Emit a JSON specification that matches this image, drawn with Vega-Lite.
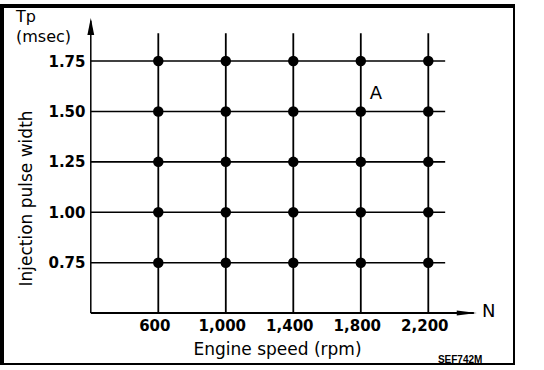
{
  "$schema": "https://vega.github.io/schema/vega-lite/v6.json",
  "width": 513,
  "height": 359,
  "autosize": {"type": "none"},
  "padding": {"left": 2, "top": 6, "right": 0, "bottom": 0},
  "background": "white",
  "config": {
    "view": {"stroke": "black", "strokeWidth": 4},
    "font": "DejaVu Sans"
  },
  "datasets": {
    "points": [
      {"n": 600, "tp": 0.75}, {"n": 600, "tp": 1.0}, {"n": 600, "tp": 1.25}, {"n": 600, "tp": 1.5}, {"n": 600, "tp": 1.75},
      {"n": 1000, "tp": 0.75}, {"n": 1000, "tp": 1.0}, {"n": 1000, "tp": 1.25}, {"n": 1000, "tp": 1.5}, {"n": 1000, "tp": 1.75},
      {"n": 1400, "tp": 0.75}, {"n": 1400, "tp": 1.0}, {"n": 1400, "tp": 1.25}, {"n": 1400, "tp": 1.5}, {"n": 1400, "tp": 1.75},
      {"n": 1800, "tp": 0.75}, {"n": 1800, "tp": 1.0}, {"n": 1800, "tp": 1.25}, {"n": 1800, "tp": 1.5}, {"n": 1800, "tp": 1.75},
      {"n": 2200, "tp": 0.75}, {"n": 2200, "tp": 1.0}, {"n": 2200, "tp": 1.25}, {"n": 2200, "tp": 1.5}, {"n": 2200, "tp": 1.75}
    ],
    "tpLevels": [{"tp": 0.75}, {"tp": 1.0}, {"tp": 1.25}, {"tp": 1.5}, {"tp": 1.75}],
    "speeds": [{"n": 600}, {"n": 1000}, {"n": 1400}, {"n": 1800}, {"n": 2200}]
  },
  "layer": [
    {
      "data": {"name": "tpLevels"},
      "mark": {"type": "rule", "color": "black", "strokeWidth": 1.6},
      "encoding": {
        "y": {"field": "tp", "type": "quantitative", "scale": {"domain": [0.2428, 2.0227], "nice": false, "zero": false}},
        "x": {"datum": 200, "type": "quantitative", "scale": {"domain": [-326.2, 2713.8], "nice": false, "zero": false}},
        "x2": {"datum": 2300}
      }
    },
    {
      "data": {"name": "speeds"},
      "mark": {"type": "rule", "color": "black", "strokeWidth": 1.8},
      "encoding": {
        "x": {"field": "n", "type": "quantitative"},
        "y": {"datum": 0.5, "type": "quantitative"},
        "y2": {"datum": 1.887}
      }
    },
    {
      "data": {"values": [{}]},
      "mark": {"type": "rule", "color": "black", "strokeWidth": 1.5},
      "encoding": {
        "x": {"datum": 200, "type": "quantitative"},
        "y": {"datum": 0.5, "type": "quantitative"},
        "y2": {"datum": 1.95}
      }
    },
    {
      "data": {"values": [{}]},
      "mark": {"type": "rule", "color": "black", "strokeWidth": 2},
      "encoding": {
        "y": {"datum": 0.5, "type": "quantitative"},
        "x": {"datum": 200, "type": "quantitative"},
        "x2": {"datum": 2470}
      }
    },
    {
      "data": {"values": [{}]},
      "mark": {"type": "point", "filled": true, "color": "black", "opacity": 1, "size": 400, "shape": "M0,0L-2,-0.25L-2,0.25Z"},
      "encoding": {
        "x": {"datum": 2487, "type": "quantitative"},
        "y": {"datum": 0.5, "type": "quantitative"}
      }
    },
    {
      "data": {"values": [{}]},
      "mark": {"type": "point", "filled": true, "color": "black", "opacity": 1, "size": 289, "shape": "M0,0L-0.4,2L0.4,2Z"},
      "encoding": {
        "x": {"datum": 200, "type": "quantitative"},
        "y": {"datum": 1.963, "type": "quantitative"}
      }
    },
    {
      "data": {"values": [{}]},
      "mark": {"type": "text", "align": "left", "baseline": "alphabetic", "fontSize": 16, "lineHeight": 20, "color": "black", "text": ["Tp", "(msec)"]},
      "encoding": {
        "x": {"datum": -243, "type": "quantitative"},
        "y": {"datum": 1.943, "type": "quantitative"}
      }
    },
    {
      "data": {"values": [{}]},
      "mark": {"type": "text", "align": "center", "baseline": "alphabetic", "fontSize": 18, "color": "black", "text": "A"},
      "encoding": {
        "x": {"datum": 1890, "type": "quantitative"},
        "y": {"datum": 1.5616, "type": "quantitative"}
      }
    },
    {
      "data": {"values": [{}]},
      "mark": {"type": "text", "align": "left", "baseline": "alphabetic", "fontSize": 18, "color": "black", "text": "N"},
      "encoding": {
        "x": {"datum": 2518, "type": "quantitative"},
        "y": {"datum": 0.4808, "type": "quantitative"}
      }
    },
    {
      "data": {"values": [{}]},
      "mark": {"type": "text", "align": "left", "baseline": "alphabetic", "font": "Liberation Sans", "fontWeight": "bold", "fontSize": 10, "color": "black", "text": "SEF742M"},
      "encoding": {
        "x": {"datum": 2257, "type": "quantitative"},
        "y": {"datum": 0.255, "type": "quantitative"}
      }
    },
    {
      "data": {"name": "points"},
      "mark": {"type": "point", "filled": true, "color": "black", "opacity": 1, "size": 110, "shape": "circle"},
      "encoding": {
        "x": {
          "field": "n", "type": "quantitative",
          "axis": {
            "values": [600, 1000, 1400, 1800, 2200], "labelExpr": "format(datum.value, ',')",
            "domain": false, "ticks": false, "grid": false, "offset": -53.5,
            "labelFont": "DejaVu Sans", "labelFontWeight": "bold", "labelFontSize": 15, "labelColor": "black",
            "labelPadding": 7, "labelOffset": -4, "labelFlush": false, "labelOverlap": false, "labelBound": false,
            "title": "Engine speed (rpm)", "titleFont": "DejaVu Sans", "titleFontWeight": "normal", "titleFontSize": 17,
            "titleColor": "black", "titleX": 275, "titleY": 42.5, "titleAlign": "center", "titleBaseline": "alphabetic"
          }
        },
        "y": {
          "field": "tp", "type": "quantitative",
          "axis": {
            "values": [0.75, 1.0, 1.25, 1.5, 1.75], "labelExpr": "format(datum.value, '.2f')",
            "domain": false, "ticks": false, "grid": false, "offset": -89,
            "labelFont": "DejaVu Sans", "labelFontWeight": "bold", "labelFontSize": 15, "labelColor": "black",
            "labelPadding": 6, "labelFlush": false, "labelOverlap": false, "labelBound": false,
            "title": "Injection pulse width", "titleFont": "DejaVu Sans", "titleFontWeight": "normal", "titleFontSize": 17,
            "titleColor": "black", "titleX": -56, "titleY": 192, "titleAngle": -90, "titleAlign": "center", "titleBaseline": "bottom"
          }
        }
      }
    }
  ]
}
